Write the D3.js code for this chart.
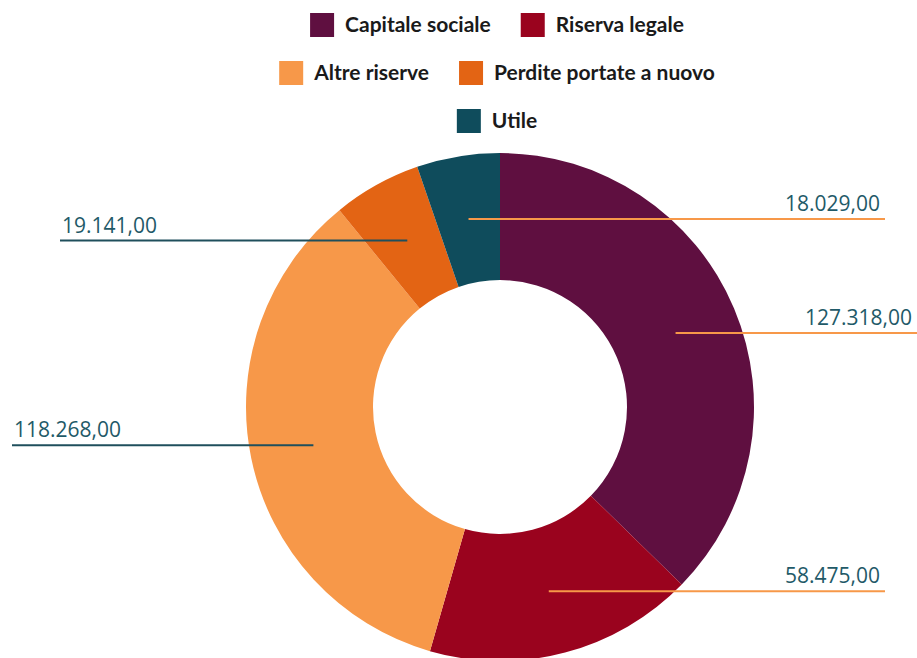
<!DOCTYPE html>
<html>
<head>
<meta charset="utf-8">
<script src="https://cdn.jsdelivr.net/npm/d3@7"></script>
<style>
  body { margin: 0; background: #fff; }
  svg { display: block; }
</style>
</head>
<body>
<div id="chart"></div>
<script>
// dati del patrimonio netto
var categorie = ["Capitale sociale", "Riserva legale", "Altre riserve", "Perdite portate a nuovo", "Utile"];
var valori = [127318, 58475, 118268, 19141, 18029];
var colori = ["#5f0f40", "#9a031e", "#f79849", "#e36414", "#0f4c5c"];

const width = 917
const height = 658
const cx = 500
const cy = 407
const outerR = 254
const innerR = 127

const fmt = d3.formatLocale({decimal: ",", thousands: ".", grouping: [3]}).format(",.2f")

let svg = d3.select('#chart')
  .append('svg')
  .attr('width', width)
  .attr('height', height)

// legenda, righe centrate con a capo
let legend = svg.append('g')
let items = categorie.map((c, i) => {
  let g = legend.append('g')
  g.append('rect')
    .attr('width', 24)
    .attr('height', 24)
    .attr('y', -12)
    .attr('fill', colori[i])
  let t = g.append('text')
    .attr('x', 35)
    .attr('dy', '0.35em')
    .style('font-family', 'Lato, sans-serif')
    .style('font-weight', 700)
    .style('font-size', '21px')
    .style('fill', '#1a1a1a')
    .text(c)
  return {g: g, w: 35 + t.node().getComputedTextLength()}
})

const maxRow = 500
const gap = 30
let rows = [[]]
let rowW = 0
items.forEach(it => {
  let cur = rows[rows.length - 1]
  let add = (cur.length ? gap : 0) + it.w
  if (cur.length && rowW + add > maxRow) {
    rows.push([it])
    rowW = it.w
  } else {
    cur.push(it)
    rowW += add
  }
})
rows.forEach((row, r) => {
  let total = d3.sum(row, d => d.w) + gap * (row.length - 1)
  let x = 497 - total / 2
  row.forEach(it => {
    it.g.attr('transform', 'translate(' + x + ',' + (25 + r * 48) + ')')
    x += it.w + gap
  })
})

// ciambella
let pie = d3.pie().sort(null).value(d => d)
let arcs = pie(valori)
let arc = d3.arc().innerRadius(innerR).outerRadius(outerR)
let labelArc = d3.arc().innerRadius((innerR + outerR) / 2).outerRadius((innerR + outerR) / 2)

let chart = svg.append('g')
  .attr('transform', 'translate(' + cx + ',' + cy + ')')

chart.selectAll('path')
  .data(arcs)
  .enter()
  .append('path')
  .attr('d', arc)
  .attr('fill', (d, i) => colori[i])

// etichette con linea orizzontale
let labels = svg.append('g')
arcs.forEach((d, i) => {
  let c = labelArc.centroid(d)
  let mid = (d.startAngle + d.endAngle) / 2
  let x0 = cx + c[0]
  let y0 = cy + c[1]
  let right = Math.sin(mid) > -0.25
  let near = Math.abs(c[1]) < 100
  let x1 = right ? (near ? width : width - 32) : (near ? 12 : 60)
  labels.append('line')
    .attr('x1', x0)
    .attr('x2', x1)
    .attr('y1', y0)
    .attr('y2', y0)
    .attr('stroke', right ? '#f79849' : '#1f4f5c')
    .attr('stroke-width', 2)
  labels.append('text')
    .attr('x', right ? x1 - 5 : x1 + 2)
    .attr('y', y0 - 8)
    .attr('text-anchor', right ? 'end' : 'start')
    .style('font-family', '"Open Sans", sans-serif')
    .style('font-size', '21px')
    .style('fill', '#1f5a68')
    .text(fmt(valori[i]))
})
</script>
</body>
</html>
